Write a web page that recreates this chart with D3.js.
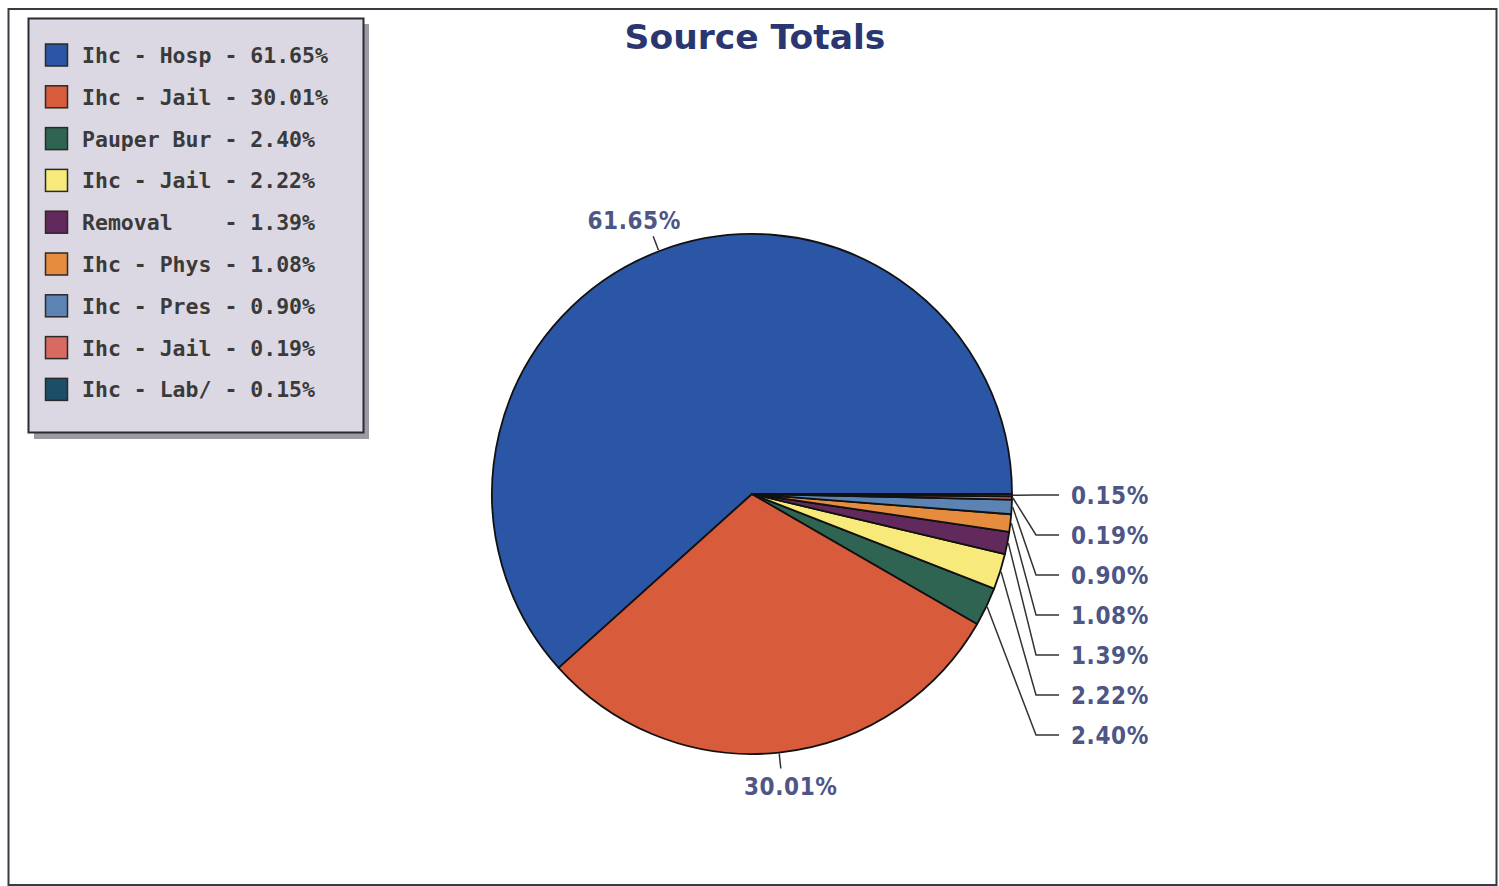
<!DOCTYPE html>
<html><head><meta charset="utf-8">
<script src="https://cdn.jsdelivr.net/npm/d3@7/dist/d3.min.js"></script>
<style>body{margin:0;background:#fff}svg{display:block}</style>
</head><body>
<svg id="chart" width="1499" height="886"></svg>
<script>
const categories = ["Ihc - Hosp", "Ihc - Jail", "Pauper Bur", "Ihc - Jail", "Removal   ", "Ihc - Phys", "Ihc - Pres", "Ihc - Jail", "Ihc - Lab/"];
const values = [61.65, 30.01, 2.40, 2.22, 1.39, 1.08, 0.90, 0.19, 0.15];
const colors = ["#2b56a6", "#d85b3b", "#2f6352", "#f8ea7a", "#62295c", "#e58c3e", "#5b84b4", "#d86a62", "#1d4e68"];
const title = "Source Totals";

const svg = d3.select("#chart");
const W = 1499, H = 886;
svg.append("rect").attr("width", W).attr("height", H).attr("fill", "#fff");
svg.append("rect").attr("x", 8.5).attr("y", 9).attr("width", 1488).attr("height", 876)
  .attr("fill", "none").attr("stroke", "#3a3a44").attr("stroke-width", 2);

svg.append("text").attr("x", 755).attr("y", 49).attr("text-anchor", "middle")
  .attr("font-family", "DejaVu Sans").attr("font-weight", "bold").attr("font-size", 34.5)
  .attr("fill", "#2a3670").text(title);

// pie
const cx = 752, cy = 494, r = 260;
const pie = d3.pie().sort(null).value(d => d).startAngle(Math.PI / 2).endAngle(Math.PI / 2 - 2 * Math.PI);
const arcs = pie(values);
const arc = d3.arc().innerRadius(0).outerRadius(r);
const g = svg.append("g").attr("transform", `translate(${cx},${cy})`);
g.selectAll("path").data(arcs).join("path")
  .attr("d", arc).attr("fill", (d, i) => colors[i])
  .attr("stroke", "#111").attr("stroke-width", 1.8).attr("stroke-linejoin", "round");

const fmt = v => v.toFixed(2) + "%";
const pt = (a, rr) => [cx + rr * Math.sin(a), cy - rr * Math.cos(a)];
const labelFont = { family: "DejaVu Sans Condensed", size: 24, color: "#4d5684" };
function label(x, y, txt, anchor) {
  svg.append("text").attr("x", x).attr("y", y).attr("text-anchor", anchor || "start")
    .attr("font-family", labelFont.family).attr("font-weight", "bold")
    .attr("font-size", labelFont.size).attr("letter-spacing", 0.6)
    .attr("fill", labelFont.color).text(txt);
}
const lead = svg.append("g").attr("fill", "none").attr("stroke", "#333").attr("stroke-width", 1.5);
arcs.forEach((d, i) => {
  const mid = (d.startAngle + d.endAngle) / 2;
  const e = pt(mid, r + 1);
  if (i < 2) {
    const o = pt(mid, r + 16);
    lead.append("line").attr("x1", e[0]).attr("y1", e[1]).attr("x2", o[0]).attr("y2", o[1]);
    if (i === 0) label(o[0] - 19, o[1] - 7, fmt(d.data), "middle");
    else label(o[0] + 10, o[1] + 27, fmt(d.data), "middle");
  } else {
    const ly = 495 + (values.length - 1 - i) * 40;
    lead.append("polyline").attr("points", `${e[0]},${e[1]} 1036,${ly} 1059,${ly}`);
    label(1071, ly + 9, fmt(d.data));
  }
});

// legend
const lg = svg.append("g");
lg.append("rect").attr("x", 34).attr("y", 24).attr("width", 335).attr("height", 415).attr("fill", "#9c9aa2");
lg.append("rect").attr("x", 28.5).attr("y", 18.5).attr("width", 335).attr("height", 414)
  .attr("fill", "#dcd8e3").attr("stroke", "#2a2a30").attr("stroke-width", 2);
categories.forEach((c, i) => {
  const y = 55 + i * 41.8;
  lg.append("rect").attr("x", 45.5).attr("y", y - 11).attr("width", 22).attr("height", 22)
    .attr("fill", colors[i]).attr("stroke", "#2a2a2a").attr("stroke-width", 1.5);
  lg.append("text").attr("x", 82).attr("y", y + 8).attr("xml:space", "preserve")
    .style("white-space", "pre")
    .attr("font-family", "DejaVu Sans Mono").attr("font-weight", "bold")
    .attr("font-size", 21.5).attr("fill", "#3a3a3a")
    .text(c + " - " + fmt(values[i]));
});
</script>
</body></html>
